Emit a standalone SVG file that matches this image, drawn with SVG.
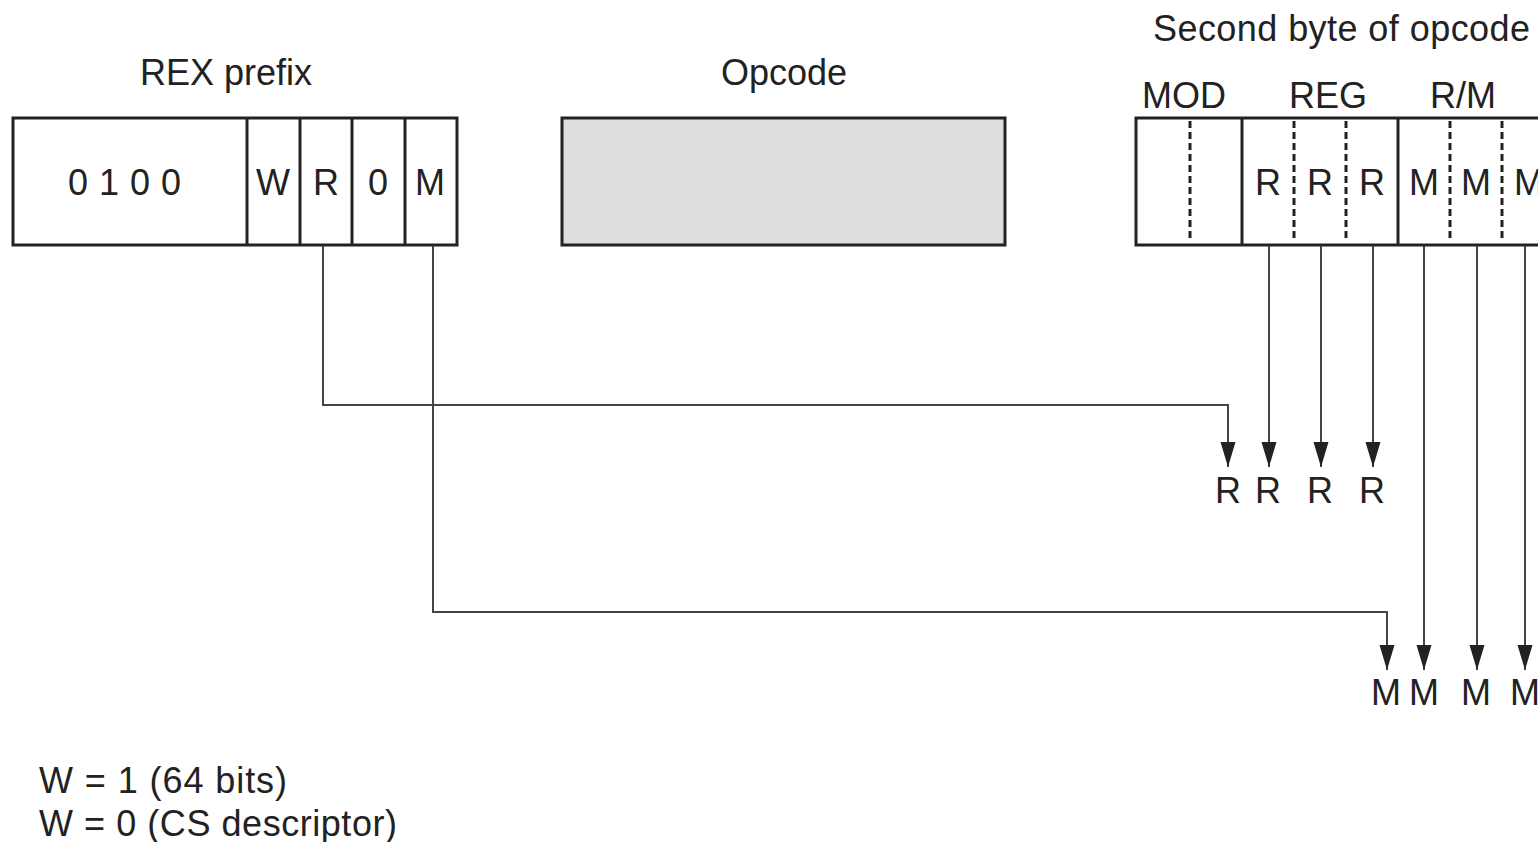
<svg xmlns="http://www.w3.org/2000/svg" width="1538" height="842" viewBox="0 0 1538 842">
<style>
text{font-family:"Liberation Sans",Arial,sans-serif;font-size:36px;fill:#222}
.mid{text-anchor:middle}
.box{fill:#fff;stroke:#222;stroke-width:3}
.div{stroke:#222;stroke-width:3}
.dash{stroke:#222;stroke-width:3;stroke-dasharray:7,4}
.con{fill:none;stroke:#444;stroke-width:2}
</style>
<defs>
<marker id="ah" markerUnits="userSpaceOnUse" markerWidth="26" markerHeight="16" refX="25" refY="7.5" orient="auto">
<path d="M0,0 L25,7.5 L0,15 Z" fill="#222"/>
</marker>
</defs>
<rect width="1538" height="842" fill="#fff"/>
<g id="rex">
<text class="mid" x="226" y="85">REX prefix</text>
<rect class="box" x="13" y="118" width="444" height="127"/>
<line class="div" x1="247" y1="118" x2="247" y2="245"/>
<line class="div" x1="300" y1="118" x2="300" y2="245"/>
<line class="div" x1="352" y1="118" x2="352" y2="245"/>
<line class="div" x1="405" y1="118" x2="405" y2="245"/>
<text x="68" y="195" letter-spacing="11">0100</text>
<text class="mid" x="273" y="195">W</text>
<text class="mid" x="326" y="195">R</text>
<text class="mid" x="378" y="195">0</text>
<text class="mid" x="430" y="195">M</text>
</g>
<g id="opcode">
<text class="mid" x="784" y="85">Opcode</text>
<rect x="562" y="118" width="443" height="127" fill="#dcdddf" stroke="#222" stroke-width="3"/>
</g>
<g id="second">
<text x="1153" y="41" textLength="377" lengthAdjust="spacing">Second byte of opcode</text>
<text class="mid" x="1184" y="108">MOD</text>
<text class="mid" x="1328" y="108">REG</text>
<text class="mid" x="1463" y="108">R/M</text>
<rect class="box" x="1136" y="118" width="430" height="127"/>
<line class="div" x1="1242" y1="118" x2="1242" y2="245"/>
<line class="div" x1="1398" y1="118" x2="1398" y2="245"/>
<line class="dash" x1="1190" y1="121" x2="1190" y2="242"/>
<line class="dash" x1="1294" y1="121" x2="1294" y2="242"/>
<line class="dash" x1="1346" y1="121" x2="1346" y2="242"/>
<line class="dash" x1="1450" y1="121" x2="1450" y2="242"/>
<line class="dash" x1="1502" y1="121" x2="1502" y2="242"/>
<text class="mid" x="1268" y="195">R</text>
<text class="mid" x="1320" y="195">R</text>
<text class="mid" x="1372" y="195">R</text>
<text class="mid" x="1424" y="195">M</text>
<text class="mid" x="1476" y="195">M</text>
<text class="mid" x="1529" y="195">M</text>
</g>
<g id="connectors">
<path class="con" d="M323,246 V405 H1228 V467" marker-end="url(#ah)"/>
<path class="con" d="M1269,246 V467" marker-end="url(#ah)"/>
<path class="con" d="M1321,246 V467" marker-end="url(#ah)"/>
<path class="con" d="M1373,246 V467" marker-end="url(#ah)"/>
<path class="con" d="M433,246 V612 H1387 V670" marker-end="url(#ah)"/>
<path class="con" d="M1424,246 V670" marker-end="url(#ah)"/>
<path class="con" d="M1477,246 V670" marker-end="url(#ah)"/>
<path class="con" d="M1525,246 V670" marker-end="url(#ah)"/>
</g>
<g id="rlabels">
<text class="mid" x="1228" y="503">R</text>
<text class="mid" x="1268" y="503">R</text>
<text class="mid" x="1320" y="503">R</text>
<text class="mid" x="1372" y="503">R</text>
</g>
<g id="mlabels">
<text class="mid" x="1386" y="705">M</text>
<text class="mid" x="1424" y="705">M</text>
<text class="mid" x="1476" y="705">M</text>
<text class="mid" x="1525" y="705">M</text>
</g>
<g id="legend">
<text x="39" y="793" textLength="248" lengthAdjust="spacing">W = 1 (64 bits)</text>
<text x="39" y="836" textLength="358" lengthAdjust="spacing">W = 0 (CS descriptor)</text>
</g>
</svg>
